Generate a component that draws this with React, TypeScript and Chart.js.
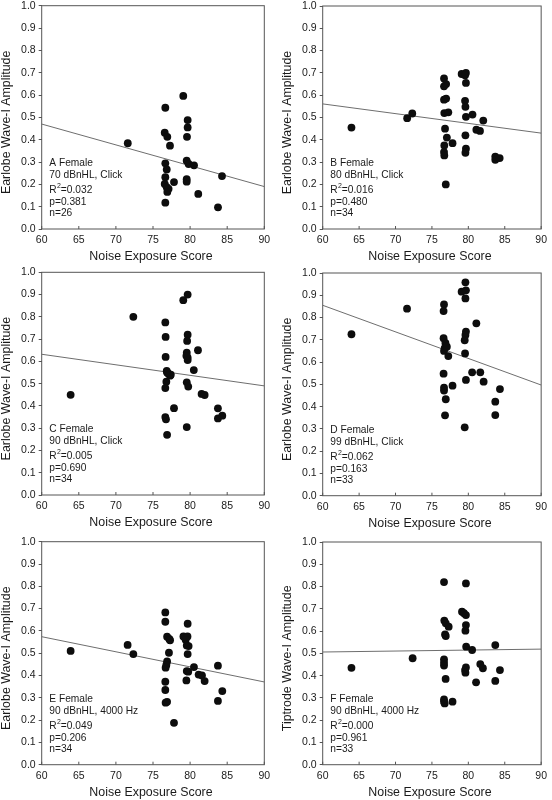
import React, { useEffect, useRef } from "react";
import { Chart, registerables } from "chart.js";

Chart.register(...registerables);

const FONT = '"Liberation Sans", Arial, Helvetica, sans-serif';

// ---------- data ----------
const scoreA = [71.6, 76.66, 79.08, 79.67, 79.67, 79.58, 76.58, 76.93, 77.29, 79.54, 79.8, 80.53, 76.66, 76.85, 84.3, 76.66, 79.54, 79.54, 77.83, 76.58, 76.85, 77.1, 76.93, 81.1, 76.66, 83.76];
const ampA = [0.384, 0.543, 0.596, 0.488, 0.455, 0.413, 0.431, 0.413, 0.373, 0.306, 0.291, 0.285, 0.294, 0.267, 0.237, 0.232, 0.223, 0.212, 0.21, 0.202, 0.187, 0.18, 0.166, 0.157, 0.118, 0.097];

const scoreB = [63.95, 71.6, 72.3, 76.66, 76.66, 76.95, 76.66, 76.95, 76.7, 77.25, 76.8, 77.05, 76.7, 76.66, 76.7, 76.9, 77.83, 79.08, 79.67, 79.55, 79.67, 79.55, 79.6, 79.67, 79.6, 79.67, 79.6, 80.57, 81.1, 81.6, 82.05, 83.7, 83.7, 84.3];
const ampB = [0.455, 0.497, 0.518, 0.675, 0.64, 0.65, 0.58, 0.585, 0.52, 0.523, 0.45, 0.41, 0.375, 0.345, 0.33, 0.2, 0.385, 0.695, 0.7, 0.69, 0.655, 0.575, 0.548, 0.503, 0.42, 0.36, 0.342, 0.513, 0.445, 0.44, 0.486, 0.325, 0.31, 0.318];

const scoreC = [63.9, 72.35, 79.08, 79.67, 76.66, 76.7, 76.7, 76.85, 77.05, 77.3, 77.4, 76.9, 76.8, 76.66, 76.66, 76.75, 76.9, 77.83, 79.67, 79.6, 79.55, 79.67, 79.67, 79.5, 79.55, 79.75, 79.55, 81.06, 80.5, 81.55, 81.96, 83.75, 83.75, 84.34];
const ampC = [0.45, 0.8, 0.875, 0.9, 0.775, 0.71, 0.62, 0.557, 0.546, 0.536, 0.54, 0.55, 0.509, 0.48, 0.35, 0.34, 0.27, 0.39, 0.72, 0.692, 0.639, 0.606, 0.617, 0.625, 0.506, 0.487, 0.305, 0.65, 0.561, 0.454, 0.449, 0.389, 0.344, 0.356];

const scoreD = [63.95, 71.58, 76.66, 76.6, 76.6, 76.85, 76.75, 76.66, 77.05, 77.25, 76.6, 76.66, 76.66, 76.9, 76.8, 77.83, 79.08, 79.6, 79.67, 79.6, 79.67, 79.6, 79.5, 79.55, 79.67, 79.5, 81.1, 80.52, 81.64, 82.1, 83.7, 83.7, 84.34];
const ampD = [0.725, 0.84, 0.859, 0.829, 0.707, 0.686, 0.662, 0.65, 0.669, 0.627, 0.548, 0.485, 0.472, 0.433, 0.361, 0.494, 0.916, 0.958, 0.922, 0.886, 0.737, 0.722, 0.698, 0.639, 0.52, 0.307, 0.774, 0.554, 0.554, 0.512, 0.422, 0.362, 0.479];

const scoreE = [63.9, 71.58, 72.35, 76.66, 76.66, 76.9, 77.2, 77.3, 77.15, 76.9, 76.8, 76.7, 76.66, 76.66, 76.7, 76.9, 77.83, 79.67, 79.1, 79.65, 79.4, 79.55, 79.8, 79.67, 79.55, 79.75, 79.5, 80.52, 81.15, 81.6, 81.96, 83.75, 83.75, 84.34];
const ampE = [0.51, 0.537, 0.496, 0.683, 0.641, 0.574, 0.564, 0.558, 0.502, 0.463, 0.447, 0.435, 0.372, 0.335, 0.278, 0.282, 0.188, 0.632, 0.575, 0.575, 0.56, 0.535, 0.532, 0.496, 0.42, 0.417, 0.378, 0.438, 0.404, 0.4, 0.375, 0.444, 0.286, 0.33];

const scoreF = [63.95, 72.35, 76.66, 76.7, 76.9, 77.3, 76.8, 76.9, 76.66, 76.66, 76.66, 76.88, 76.66, 76.66, 76.75, 77.83, 79.13, 79.4, 79.67, 79.67, 79.67, 79.6, 79.7, 79.67, 79.55, 79.6, 80.52, 81.06, 81.64, 82.0, 83.7, 83.7, 84.34];
const ampF = [0.435, 0.478, 0.82, 0.647, 0.635, 0.62, 0.585, 0.578, 0.473, 0.458, 0.445, 0.385, 0.293, 0.283, 0.275, 0.283, 0.687, 0.68, 0.672, 0.814, 0.627, 0.602, 0.53, 0.437, 0.425, 0.413, 0.515, 0.37, 0.452, 0.433, 0.537, 0.376, 0.425];

// regression lines: value at x = 60 and x = 90
const fitX = [60, 90];
const fitA = [0.47, 0.19];
const fitB = [0.561, 0.43];
const fitC = [0.632, 0.49];
const fitD = [0.855, 0.497];
const fitE = [0.574, 0.371];
const fitF = [0.506, 0.519];

const panelIds = ["A", "B", "C", "D", "E", "F"];
const conditions = ["70 dBnHL, Click", "80 dBnHL, Click", "90 dBnHL, Click", "99 dBnHL, Click", "90 dBnHL, 4000 Hz", "90 dBnHL, 4000 Hz"];
const rSquared = ["0.032", "0.016", "0.005", "0.062", "0.049", "0.000"];
const pValues = ["0.381", "0.480", "0.690", "0.163", "0.206", "0.961"];
const nValues = ["26", "34", "34", "33", "34", "33"];
const yTitles = [
  "Earlobe Wave-I Amplitude",
  "Earlobe Wave-I Amplitude",
  "Earlobe Wave-I Amplitude",
  "Earlobe Wave-I Amplitude",
  "Earlobe Wave-I Amplitude",
  "Tiptrode Wave-I Amplitude",
];
const xTitle = "Noise Exposure Score";

const scores = [scoreA, scoreB, scoreC, scoreD, scoreE, scoreF];
const amps = [ampA, ampB, ampC, ampD, ampE, ampF];
const fits = [fitA, fitB, fitC, fitD, fitE, fitF];

// ---------- layout (page pixel positions of each plot box) ----------
const plotBoxes = [
  { left: 41.7, right: 264.3, top: 5.7, bottom: 229 },
  { left: 322.7, right: 545.3, top: 6, bottom: 229 },
  { left: 41.7, right: 264.3, top: 272.3, bottom: 495 },
  { left: 322.7, right: 545.3, top: 273, bottom: 495.7 },
  { left: 41.7, right: 264.3, top: 541.7, bottom: 764.7 },
  { left: 322.7, right: 545.3, top: 542, bottom: 764.7 },
];

function makeDecor(index: number) {
  return {
    id: "decor" + index,
    afterDraw(chart: any) {
      const { ctx, chartArea: a, scales } = chart;
      ctx.save();
      // frame
      ctx.strokeStyle = "#555";
      ctx.lineWidth = 1;
      ctx.strokeRect(a.left, a.top, a.right - a.left, a.bottom - a.top);
      // inward x ticks
      scales.x.ticks.forEach((t: any) => {
        const px = scales.x.getPixelForValue(t.value);
        ctx.beginPath();
        ctx.moveTo(px, a.bottom);
        ctx.lineTo(px, a.bottom - 3);
        ctx.stroke();
      });
      // axis titles
      ctx.fillStyle = "#1a1a1a";
      ctx.font = `12.4px ${FONT}`;
      ctx.textAlign = "center";
      ctx.textBaseline = "middle";
      ctx.fillText(xTitle, (a.left + a.right) / 2 - 2, a.bottom + 27.7);
      ctx.save();
      ctx.translate(a.left - 35, (a.top + a.bottom) / 2 + 5);
      ctx.rotate(-Math.PI / 2);
      ctx.fillText(yTitles[index], 0, 0);
      ctx.restore();
      // annotation
      const big = `10.2px ${FONT}`;
      ctx.font = big;
      ctx.textAlign = "left";
      const x0 = a.left + 7.6;
      ctx.fillText(`${panelIds[index]} Female`, x0, a.bottom - 65.5);
      ctx.fillText(conditions[index], x0, a.bottom - 53.5);
      const yR = a.bottom - 38.5;
      ctx.fillText("R", x0, yR);
      const wR = ctx.measureText("R").width;
      ctx.font = `7px ${FONT}`;
      ctx.fillText("2", x0 + wR + 0.3, yR - 4.5);
      const w2 = ctx.measureText("2").width;
      ctx.font = big;
      ctx.fillText("=" + rSquared[index], x0 + wR + 0.3 + w2, yR);
      ctx.fillText("p=" + pValues[index], x0, a.bottom - 26.5);
      ctx.fillText("n=" + nValues[index], x0, a.bottom - 15.5);
      ctx.restore();
    },
  };
}

function Panel({ index }: { index: number }) {
  const ref = useRef<HTMLCanvasElement | null>(null);
  const box = plotBoxes[index];
  const colLeft = index % 2 === 0 ? 0 : 276;
  const width = 276;
  const canvasTop = Math.floor(box.top - 12);
  const padTop = box.top - canvasTop;
  const plotH = box.bottom - box.top;
  const height = Math.floor(padTop + plotH + 35);
  const axisH = height - padTop - plotH;
  const yAxisW = box.left - colLeft;
  const padRight = colLeft + width - box.right;

  useEffect(() => {
    const score = scores[index];
    const amp = amps[index];
    const fit = fits[index];
    const chart = new Chart(ref.current as HTMLCanvasElement, {
      type: "scatter",
      data: {
        datasets: [
          {
            data: score.map((x, i) => ({ x, y: amp[i] })),
            backgroundColor: "#0d0d0d",
            borderColor: "#0d0d0d",
            borderWidth: 0,
            pointRadius: 3.9,
            pointHoverRadius: 3.9,
            order: 0,
          } as any,
          {
            type: "line",
            data: fitX.map((x, i) => ({ x, y: fit[i] })),
            borderColor: "#6e6e6e",
            borderWidth: 1,
            pointRadius: 0,
            fill: false,
            showLine: true,
            order: 1,
          } as any,
        ],
      },
      options: {
        animation: false,
        responsive: false,
        events: [],
        layout: { padding: { top: padTop, right: padRight, left: 0, bottom: 0 } },
        plugins: { legend: { display: false }, tooltip: { enabled: false } },
        scales: {
          x: {
            type: "linear",
            min: 60,
            max: 90,
            ticks: {
              stepSize: 5,
              autoSkip: false,
              maxRotation: 0,
              padding: 5,
              color: "#1a1a1a",
              font: { family: FONT, size: 10.5 },
            },
            grid: { display: true, drawOnChartArea: false, drawTicks: false },
            border: { display: false },
            afterFit: (s: any) => {
              s.height = axisH;
            },
          },
          y: {
            type: "linear",
            min: 0,
            max: 1,
            ticks: {
              stepSize: 0.1,
              padding: 3,
              color: "#1a1a1a",
              font: { family: FONT, size: 10.5 },
              callback: (v: any) => Number(v).toFixed(1),
            },
            grid: { display: true, drawOnChartArea: false, drawTicks: true, tickLength: 3, color: "#555" },
            border: { display: false },
            afterFit: (s: any) => {
              s.width = yAxisW;
            },
          },
        },
      } as any,
      plugins: [makeDecor(index)],
    });
    return () => chart.destroy();
  }, []);

  return (
    <canvas
      ref={ref}
      width={width}
      height={height}
      style={{ position: "absolute", left: colLeft, top: canvasTop, width, height }}
    />
  );
}

export default function App() {
  return (
    <div
      style={{
        position: "absolute",
        left: 0,
        top: 0,
        width: 552,
        height: 800,
        overflow: "hidden",
        background: "#fff",
      }}
    >
      {panelIds.map((id, i) => (
        <Panel key={id} index={i} />
      ))}
    </div>
  );
}
